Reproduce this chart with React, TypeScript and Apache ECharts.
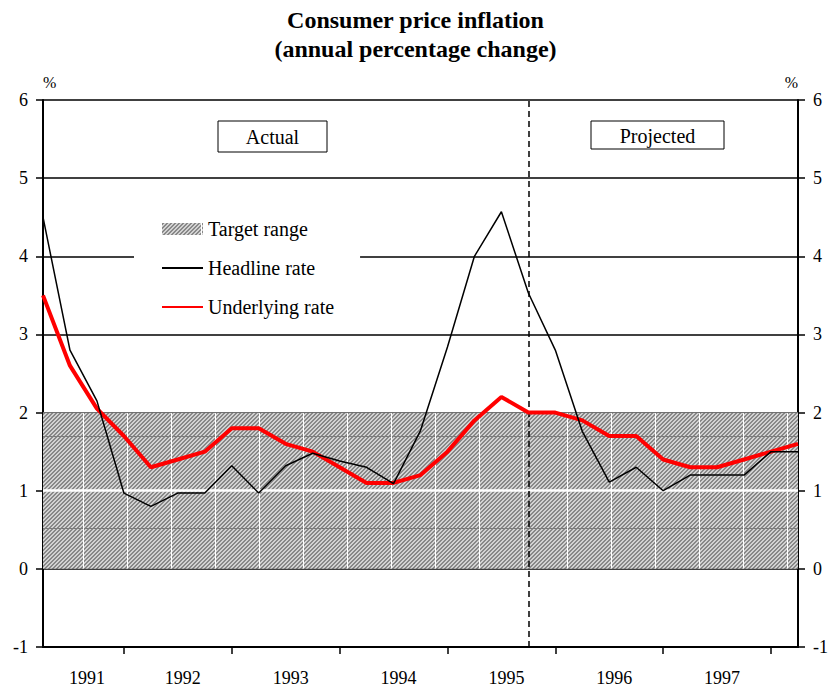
import React, { useEffect, useRef } from "react";
import * as echarts from "echarts";

const quarters = [
  "1991 Q1", "1991 Q2", "1991 Q3", "1991 Q4",
  "1992 Q1", "1992 Q2", "1992 Q3", "1992 Q4",
  "1993 Q1", "1993 Q2", "1993 Q3", "1993 Q4",
  "1994 Q1", "1994 Q2", "1994 Q3", "1994 Q4",
  "1995 Q1", "1995 Q2", "1995 Q3", "1995 Q4",
  "1996 Q1", "1996 Q2", "1996 Q3", "1996 Q4",
  "1997 Q1", "1997 Q2", "1997 Q3", "1997 Q4",
  "1998 Q1",
];

const headline = [
  4.5, 2.8, 2.15, 0.97, 0.8, 0.97, 0.97, 1.32, 0.97, 1.32, 1.48, 1.38, 1.3, 1.09,
  1.77, 2.84, 4.0, 4.57, 3.53, 2.8, 1.76, 1.11, 1.3, 1.0, 1.2, 1.2, 1.2, 1.5, 1.5,
];

const underlying = [
  3.5, 2.6, 2.05, 1.7, 1.3, 1.4, 1.5, 1.8, 1.8, 1.6, 1.5, 1.3, 1.1, 1.1,
  1.2, 1.5, 1.9, 2.2, 2.0, 2.0, 1.9, 1.7, 1.7, 1.4, 1.3, 1.3, 1.4, 1.5, 1.6,
];

const TARGET_LOW = 0;
const TARGET_HIGH = 2;
const WHITE_GRID_VALUE = 1;
const PROJECTION_START = "1995 Q3";

const Y_MIN = -1;
const Y_MAX = 6;

const FONT = "'Liberation Serif', 'Times New Roman', Times, serif";

function makePattern() {
  const w = 44;
  const h = 92;
  const c = document.createElement("canvas");
  c.width = w;
  c.height = h;
  const ctx = c.getContext("2d")!;
  for (let x = 0; x < w; x++) {
    for (let y = 0; y < h; y++) {
      let col = (x + y) % 4 < 2 ? "#888888" : "#d2d2d2";
      if (y === 68) col = "#7c7c7c";
      if (x === 39) col = "#ffffff";
      ctx.fillStyle = col;
      ctx.fillRect(x, y, 1, 1);
    }
  }
  return {
    image: c,
    repeat: "repeat",
    imageWidth: w,
    imageHeight: h,
  } as any;
}

export default function App() {
  const ref = useRef<HTMLDivElement>(null);

  useEffect(() => {
    if (!ref.current) return;
    const chart = echarts.init(ref.current, null, { renderer: "svg" });
    const pattern = makePattern();

    const yAxisCommon = {
      type: "value",
      min: Y_MIN,
      max: Y_MAX,
      interval: 1,
      name: "%",
      nameLocation: "end",
      nameGap: 18,
      axisLine: { show: true, onZero: false, lineStyle: { color: "#000", width: 2 } },
      axisTick: { show: true, inside: false, length: 7, lineStyle: { color: "#000", width: 1.5 } },
      axisLabel: { fontFamily: FONT, fontSize: 18, color: "#000", margin: 15 },
    };

    chart.setOption({
      animation: false,
      backgroundColor: "#fff",
      title: {
        text: "Consumer price inflation\n(annual percentage change)",
        left: "center",
        top: 0,
        padding: [5, 0, 5, 8],
        textStyle: {
          fontFamily: FONT,
          fontWeight: "bold",
          fontSize: 24,
          lineHeight: 29,
          color: "#000",
        },
      },
      grid: { left: 43, right: 31, top: 100, bottom: 46, containLabel: false },
      legend: {
        orient: "vertical",
        left: 134,
        top: 211,
        padding: [8, 26, 8, 27],
        backgroundColor: "#fff",
        itemWidth: 41,
        itemHeight: 12,
        itemGap: 19,
        selectedMode: false,
        textStyle: { fontFamily: FONT, fontSize: 20, color: "#000" },
        data: [
          { name: "Target range", icon: "rect", itemStyle: { color: pattern, borderWidth: 0 } },
          { name: "Headline rate", itemStyle: { opacity: 0, borderWidth: 0 } },
          { name: "Underlying rate", itemStyle: { opacity: 0, borderWidth: 0 } },
        ],
      },
      xAxis: {
        type: "category",
        data: quarters,
        boundaryGap: false,
        axisLine: { show: true, onZero: false, lineStyle: { color: "#000", width: 2 } },
        axisTick: {
          show: true,
          inside: false,
          length: 7,
          interval: (_i: number, v: string) => v.endsWith("Q4"),
          lineStyle: { color: "#000", width: 1.5 },
        },
        axisLabel: {
          interval: (_i: number, v: string) => v.endsWith("Q2"),
          margin: 22,
          fontFamily: FONT,
          fontSize: 18,
          color: "#000",
          formatter: (v: string, i: number) =>
            i === 1 ? `{first|${v.slice(0, 4)}}` : `{yr|${v.slice(0, 4)}}`,
          rich: {
            first: { fontFamily: FONT, fontSize: 18, color: "#000", padding: [0, 0, 0, 34] },
            yr: { fontFamily: FONT, fontSize: 18, color: "#000", padding: [0, 0, 0, 10] },
          },
        },
        splitLine: { show: false },
      },
      yAxis: [
        {
          ...yAxisCommon,
          position: "left",
          nameTextStyle: { fontFamily: FONT, fontSize: 16, color: "#000", align: "left", verticalAlign: "middle" },
          splitLine: { show: true, lineStyle: { color: "#000", width: 1.5 } },
        },
        {
          ...yAxisCommon,
          position: "right",
          nameTextStyle: { fontFamily: FONT, fontSize: 16, color: "#000", align: "right", verticalAlign: "middle" },
          splitLine: { show: false },
        },
      ],
      series: [
        {
          name: "Target range",
          type: "line",
          data: quarters.map(() => TARGET_HIGH),
          symbol: "none",
          silent: true,
          z: 1,
          lineStyle: { color: "#707070", width: 1 },
          itemStyle: { color: "#999" },
          areaStyle: { color: pattern, opacity: 1, origin: TARGET_LOW },
          markLine: {
            silent: true,
            z: 2,
            symbol: ["none", "none"],
            label: { show: false },
            lineStyle: { color: "#fff", width: 2.5, type: "solid" },
            data: [{ yAxis: WHITE_GRID_VALUE }],
          },
        },
        {
          name: "Underlying rate",
          type: "line",
          data: underlying,
          symbol: "none",
          z: 3,
          lineStyle: { color: "#ff0000", width: 4 },
          itemStyle: { color: "#ff0000" },
        },
        {
          name: "Headline rate",
          type: "line",
          data: headline,
          symbol: "none",
          z: 4,
          lineStyle: { color: "#000", width: 1.5 },
          itemStyle: { color: "#000" },
          markLine: {
            silent: true,
            z: 2.5,
            symbol: ["none", "none"],
            label: { show: false },
            lineStyle: { color: "#000", width: 1.5, type: [6, 4] },
            data: [{ xAxis: PROJECTION_START }],
          },
        },
      ],
      graphic: [
        {
          type: "group",
          children: [
            {
              type: "rect",
              shape: { x: 218, y: 121, width: 109, height: 31 },
              style: { fill: "#fff", stroke: "#000", lineWidth: 1 },
            },
            {
              type: "text",
              x: 272.5,
              y: 137,
              style: {
                text: "Actual",
                fontFamily: FONT,
                fontSize: 20,
                fill: "#000",
                textAlign: "center",
                textVerticalAlign: "middle",
              },
            },
            {
              type: "rect",
              shape: { x: 591, y: 121, width: 133, height: 28 },
              style: { fill: "#fff", stroke: "#000", lineWidth: 1 },
            },
            {
              type: "text",
              x: 657.5,
              y: 135.5,
              style: {
                text: "Projected",
                fontFamily: FONT,
                fontSize: 20,
                fill: "#000",
                textAlign: "center",
                textVerticalAlign: "middle",
              },
            },
          ],
        },
      ],
    });

    return () => chart.dispose();
  }, []);

  return (
    <div
      ref={ref}
      style={{ position: "fixed", left: 0, top: 0, width: 831, height: 693, background: "#fff" }}
    />
  );
}
